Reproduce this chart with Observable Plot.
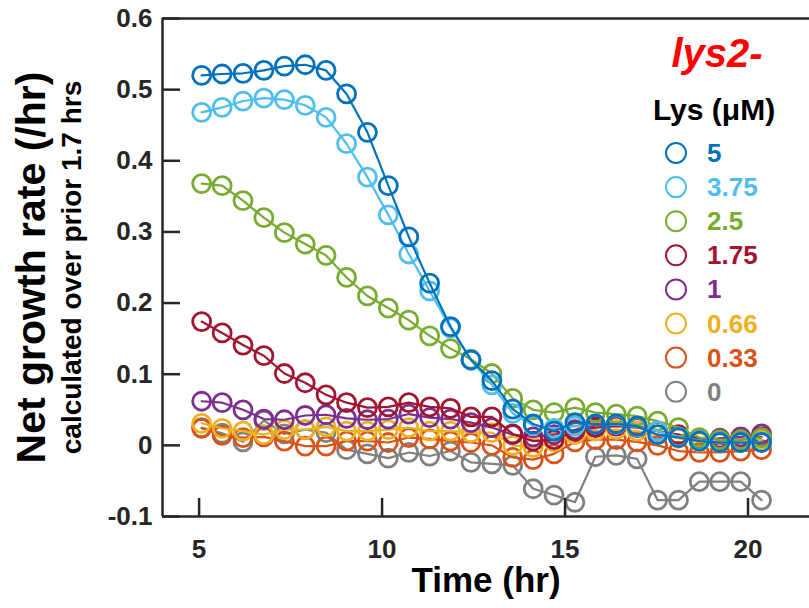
<!DOCTYPE html>
<html><head><meta charset="utf-8">
<script src="https://cdn.jsdelivr.net/npm/d3@7"></script>
<script src="https://cdn.jsdelivr.net/npm/@observablehq/plot@0.6"></script>
<style>
body{margin:0;background:#fff;}
#wrap{position:relative;width:809px;height:608px;font-family:"Liberation Sans",Arial,Helvetica,sans-serif;}
#wrap svg{font-family:"Liberation Sans",Arial,Helvetica,sans-serif;}
#legend{position:absolute;left:0;top:0;pointer-events:none;}
</style></head><body><div id="wrap"></div>
<script>
// ---- data ----
const times = [5.07, 5.63, 6.20, 6.77, 7.33, 7.90, 8.47, 9.03, 9.60, 10.17, 10.73, 11.30, 11.87, 12.43,
               13.00, 13.57, 14.13, 14.70, 15.27, 15.83, 16.40, 16.97, 17.53, 18.10, 18.67, 19.23, 19.80, 20.37];
const concentrations = ["5", "3.75", "2.5", "1.75", "1", "0.66", "0.33", "0"];
const colors = ["#0072BD", "#4DBEEE", "#77AC30", "#A2142F", "#7E2F8E", "#EDB120", "#D95319", "#808080"];

const rate5    = [0.520, 0.522, 0.523, 0.527, 0.533, 0.535, 0.527, 0.494, 0.440, 0.365, 0.293, 0.228, 0.167, 0.120,
                  0.091, 0.051, 0.030, 0.020, 0.032, 0.030, 0.030, 0.027, 0.015, 0.011, 0.006, 0.004, 0.004, 0.004];
const rate375  = [0.468, 0.475, 0.484, 0.488, 0.486, 0.478, 0.461, 0.424, 0.377, 0.324, 0.269, 0.217, 0.165, 0.120,
                  0.085, 0.045, 0.028, 0.024, 0.027, 0.030, 0.029, 0.026, 0.020, 0.012, 0.007, 0.004, 0.004, 0.005];
const rate25   = [0.368, 0.365, 0.344, 0.320, 0.299, 0.283, 0.267, 0.236, 0.210, 0.193, 0.176, 0.154, 0.136, 0.121,
                  0.101, 0.066, 0.050, 0.046, 0.053, 0.046, 0.044, 0.041, 0.034, 0.025, 0.011, 0.008, 0.008, 0.011];
const rate175  = [0.174, 0.158, 0.141, 0.126, 0.101, 0.088, 0.071, 0.060, 0.053, 0.054, 0.060, 0.054, 0.052, 0.040,
                  0.040, 0.016, 0.006, 0.008, 0.020, 0.025, 0.027, 0.025, 0.020, 0.015, 0.010, 0.008, 0.008, 0.012];
const rate1    = [0.062, 0.060, 0.050, 0.037, 0.036, 0.042, 0.043, 0.038, 0.036, 0.037, 0.044, 0.039, 0.037, 0.032,
                  0.025, 0.015, 0.012, 0.015, 0.022, 0.028, 0.030, 0.027, 0.020, 0.012, 0.008, 0.010, 0.012, 0.016];
const rate066  = [0.031, 0.024, 0.020, 0.015, 0.022, 0.022, 0.026, 0.020, 0.020, 0.022, 0.025, 0.020, 0.020, 0.018,
                  0.018, 0.000, -0.003, 0.005, 0.015, 0.020, 0.022, 0.020, 0.015, 0.010, 0.005, 0.005, 0.005, 0.008];
const rate033  = [0.024, 0.014, 0.011, 0.012, 0.006, -0.001, -0.001, 0.006, 0.006, 0.004, 0.011, 0.009, 0.006, 0.004,
                  0.000, -0.017, -0.020, -0.012, 0.005, 0.008, 0.008, 0.005, 0.000, -0.008, -0.010, -0.010, -0.008, -0.006];
const rate0    = [0.025, 0.017, 0.005, 0.035, 0.016, 0.022, 0.018, -0.006, -0.012, -0.018, -0.010, -0.015, -0.008, -0.024,
                  -0.026, -0.028, -0.061, -0.070, -0.080, -0.016, -0.014, -0.019, -0.077, -0.077, -0.051, -0.051, -0.051, -0.077];
const seriesValues = [rate5, rate375, rate25, rate175, rate1, rate066, rate033, rate0];

const xTicks = [5, 10, 15, 20];
const yTicks = [-0.1, 0, 0.1, 0.2, 0.3, 0.4, 0.5, 0.6];
const xDomain = [4, 21.68];
const yDomain = [-0.1, 0.6];

const titleText = "lys2-";
const legendTitle = "Lys (\u03BCM)";
const xLabel = "Time (hr)";
const yLabel1 = "Net growth rate (/hr)";
const yLabel2 = "calculated over prior 1.7 hrs";

// ---- chart ----
const axisColor = "#262626";
const rows = concentrations.flatMap((c, k) => times.map((t, i) => ({conc: c, t, v: seriesValues[k][i]})));
const drawOrder = concentrations.slice().reverse();
const dataMarks = drawOrder.flatMap(c => {
  const d = rows.filter(r => r.conc === c);
  return [
    Plot.line(d, {x: "t", y: "v", stroke: "conc", strokeWidth: 2.2}),
    Plot.dot(d, {x: "t", y: "v", stroke: "conc", r: 9, strokeWidth: 2.8, fill: "none"})
  ];
});

const chart = Plot.plot({
  width: 809, height: 608,
  marginLeft: 162, marginRight: 0, marginTop: 18, marginBottom: 92,
  style: {fontFamily: "Liberation Sans, Arial, Helvetica, sans-serif", background: "#fff"},
  x: {domain: xDomain},
  y: {domain: yDomain},
  color: {type: "ordinal", domain: concentrations, range: colors},
  marks: [
    ...dataMarks,
    Plot.ruleY(yDomain, {stroke: axisColor, strokeWidth: 2.5}),
    Plot.ruleX([xDomain[0]], {stroke: axisColor, strokeWidth: 2.5}),
    Plot.axisY(yTicks, {tickSize: -18, tickPadding: 28, tickFormat: d => String(d), fontSize: 26, fontWeight: "bold",
      color: axisColor, strokeWidth: 2.5, label: null}),
    Plot.axisX(xTicks, {tickSize: -18, tickPadding: 41, tickFormat: d => String(d), fontSize: 26, fontWeight: "bold",
      color: axisColor, strokeWidth: 2.5, label: null}),
    Plot.text([xLabel], {frameAnchor: "bottom", text: d => d, dy: 64, fontSize: 35, fontWeight: "bold",
      textAnchor: "middle", lineAnchor: "middle", fill: "#000"}),
    Plot.text([yLabel1], {frameAnchor: "left", text: d => d, rotate: -90, dx: -131, fontSize: 41, fontWeight: "bold",
      textAnchor: "middle", lineAnchor: "middle", fill: "#000"}),
    Plot.text([yLabel2], {frameAnchor: "left", text: d => d, rotate: -90, dx: -90, fontSize: 28, fontWeight: "bold",
      textAnchor: "middle", lineAnchor: "middle", fill: "#000"})
  ]
});
const wrap = document.getElementById("wrap");
wrap.appendChild(chart);

// ---- legend overlay ----
const lg = d3.select(wrap).append("svg").attr("id", "legend").attr("width", 809).attr("height", 608);
lg.append("text").attr("x", 717).attr("y", 67).attr("text-anchor", "middle")
  .attr("font-size", 40).attr("font-weight", "bold").attr("font-style", "italic").attr("fill", "#FF0000").text(titleText);
lg.append("text").attr("x", 714).attr("y", 120).attr("text-anchor", "middle")
  .attr("font-size", 30).attr("font-weight", "bold").attr("fill", "#000").text(legendTitle);
const items = lg.selectAll("g.item").data(concentrations).join("g").attr("class", "item")
  .attr("transform", (d, i) => `translate(0,${153 + 34.1 * i})`);
items.append("circle").attr("cx", 676).attr("cy", 0).attr("r", 10).attr("fill", "none")
  .attr("stroke", (d, i) => colors[i]).attr("stroke-width", 2);
items.append("text").attr("x", 707).attr("y", 9).attr("font-size", 26).attr("font-weight", "bold")
  .attr("fill", (d, i) => colors[i]).text(d => d);
</script></body></html>
